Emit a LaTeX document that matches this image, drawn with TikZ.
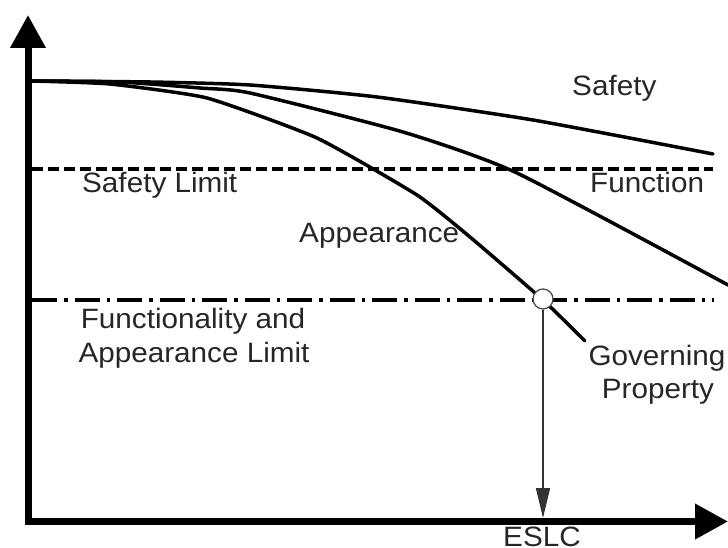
\documentclass[tikz,border=0pt]{standalone}
\usepackage{fontspec}
\setmainfont{Liberation Sans}[FakeStretch=1.06]
\usetikzlibrary{arrows.meta}
\begin{document}
\begin{tikzpicture}[x=1pt,y=-1pt,
  axisline/.style={line width=7pt, line join=miter, -{Triangle[width=34pt,length=33pt]}},
  curveline/.style={line width=3.5pt, line cap=round, line join=round},
  safetylim/.style={line width=3.5pt, dash pattern=on 11pt off 5pt},
  funclim/.style={line width=4pt, dash pattern=on 25pt off 7pt on 3.5pt off 7pt},
  lbl/.style={font=\fontsize{28}{34}\selectfont, inner sep=0pt, text=black!85},
  marker/.style={circle, draw=black!70, line width=1.3pt, fill=white, minimum size=20pt, inner sep=0pt},
  droparrow/.style={line width=1.6pt, draw=black!80, -{Triangle[width=14pt,length=30pt]}}
]
\useasboundingbox (0,0) rectangle (728,548);
\coordinate (ytip) at (28,15);
\coordinate (origin) at (28,521.5);
\coordinate (xtip) at (728,521.5);
% axes
\draw[axisline] (origin) -- (ytip);
\draw[axisline] ([xshift=-3.5pt]origin) -- (xtip);
% limits
\coordinate (sl0) at (32,169);
\coordinate (sl1) at (713,169);
\draw[safetylim] (sl0) -- (sl1);
\coordinate (fl0) at (32,300);
\coordinate (fl1) at (714,300);
\draw[funclim] (fl0) -- (fl1);
% curves
\draw[curveline] plot[smooth, tension=0.35] coordinates {(32,81) (150,82) (250,85) (377,97) (533,120) (713,154)};
\draw[curveline] plot[smooth, tension=0.35] coordinates {(32,81) (120,82) (200,88) (250,93) (403,132) (517,173) (728,285)};
\draw[curveline] plot[smooth, tension=0.3] coordinates {(32,81) (110,84) (207,98) (317,138) (417,195) (470,237) (543,300) (585,341)};
% marker
\node[marker] (gp) at (543,299) {};
\coordinate (eslcpt) at (543,518);
\draw[droparrow] (gp.south) -- (eslcpt);
% labels
\node[lbl, anchor=base west] (lsafety) at (572,96) {Safety};
\node[lbl, anchor=base west] (lfunction) at (590,193) {Function};
\node[lbl, anchor=base west] (lappear) at (299,243) {Appearance};
\node[lbl, anchor=base west] (lsafelim) at (82,193) {Safety Limit};
\node[lbl, anchor=base] (lfal1) at (193,328) {Functionality and};
\node[lbl, anchor=base] (lfal2) at (194,362) {Appearance Limit};
\node[lbl, anchor=base] (lgov1) at (657,365) {Governing};
\node[lbl, anchor=base] (lgov2) at (658,398) {Property};
\node[lbl, anchor=base] (leslc) at (542,546.5) {ESLC};
\end{tikzpicture}
\end{document}
